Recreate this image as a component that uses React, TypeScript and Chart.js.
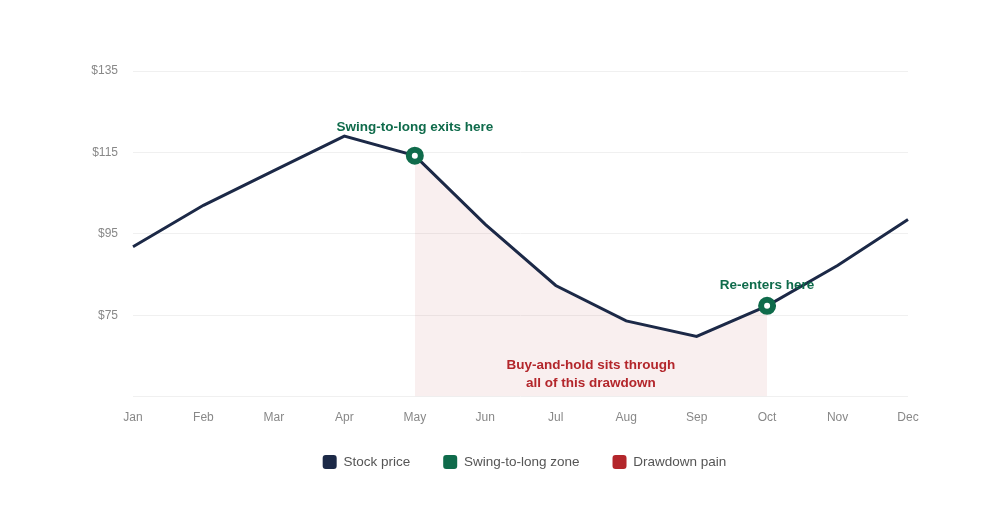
import React, { useEffect, useRef } from "react";
import { Chart, registerables } from "chart.js";

Chart.register(...registerables);

const months = ["Jan", "Feb", "Mar", "Apr", "May", "Jun", "Jul", "Aug", "Sep", "Oct", "Nov", "Dec"];
const stockPrice = [91.8, 102, 110.5, 119, 114.2, 97.3, 82.3, 73.6, 69.8, 77.3, 87.2, 98.5];
const exitIndex = 4;
const reentryIndex = 9;
const yTickValues = [55, 75, 95, 115, 135];
const legendNames = ["Stock price", "Swing-to-long zone", "Drawdown pain"];

const NAVY = "#1c2947";
const GREEN = "#0f6b4b";
const RED = "#b3262b";
const FONT = "'Liberation Sans', Arial, Helvetica, sans-serif";

const swingMarkers = stockPrice.map((v, i) => (i === exitIndex || i === reentryIndex ? v : null));
const drawdownZone = stockPrice.map((v, i) => (i >= exitIndex && i <= reentryIndex ? v : null));

const annotationPlugin = {
  id: "annotations",
  afterLayout(chart: any) {
    const lg = chart.legend;
    if (lg) {
      lg.top -= 17;
      lg.bottom -= 17;
      lg.left += 4;
      lg.right += 4;
    }
  },
  afterDatasetsDraw(chart: any) {
    const { ctx, scales, chartArea } = chart;
    const x = scales.x;
    const y = scales.y;
    ctx.save();
    ctx.textAlign = "center";
    ctx.textBaseline = "middle";
    ctx.font = `bold 13.5px ${FONT}`;
    ctx.fillStyle = GREEN;
    ctx.fillText(
      "Swing-to-long exits here",
      x.getPixelForValue(exitIndex),
      y.getPixelForValue(stockPrice[exitIndex]) - 28
    );
    ctx.fillText(
      "Re-enters here",
      x.getPixelForValue(reentryIndex),
      y.getPixelForValue(stockPrice[reentryIndex]) - 21
    );
    ctx.fillStyle = RED;
    const cx = (x.getPixelForValue(exitIndex) + x.getPixelForValue(reentryIndex)) / 2;
    ctx.fillText("Buy-and-hold sits through", cx, chartArea.bottom - 31);
    ctx.fillText("all of this drawdown", cx, chartArea.bottom - 13);
    ctx.restore();
  },
};

export default function App() {
  const ref = useRef<HTMLCanvasElement | null>(null);

  useEffect(() => {
    document.body.style.margin = "0";
    if (!ref.current) return;
    const chart = new Chart(ref.current, {
      type: "line",
      data: {
        labels: months,
        datasets: [
          {
            label: legendNames[1],
            data: swingMarkers,
            showLine: false,
            pointRadius: 6,
            pointHoverRadius: 6,
            pointBorderWidth: 6,
            pointBackgroundColor: "#ffffff",
            pointBorderColor: GREEN,
            borderColor: GREEN,
            backgroundColor: GREEN,
            order: 0,
          },
          {
            label: legendNames[0],
            data: stockPrice,
            borderColor: NAVY,
            backgroundColor: NAVY,
            borderWidth: 3,
            pointRadius: 0,
            tension: 0,
            fill: false,
            order: 1,
          },
          {
            label: legendNames[2],
            data: drawdownZone,
            borderColor: "rgba(0,0,0,0)",
            borderWidth: 0,
            backgroundColor: "rgba(178,34,34,0.075)",
            pointRadius: 0,
            fill: "start",
            order: 2,
          },
        ],
      },
      options: {
        animation: false,
        responsive: true,
        maintainAspectRatio: false,
        layout: { padding: { left: 60, right: 92, top: 71, bottom: 24 } },
        plugins: {
          tooltip: { enabled: false },
          legend: {
            position: "bottom",
            fullSize: false,
            labels: {
              font: { family: FONT, size: 13.5 },
              color: "#555555",
              boxWidth: 14,
              boxHeight: 14,
              padding: 33,
              useBorderRadius: true,
              borderRadius: 3,
              generateLabels: () =>
                [NAVY, GREEN, RED].map((c, i) => ({
                  text: legendNames[i],
                  fillStyle: c,
                  strokeStyle: c,
                  lineWidth: 0,
                  hidden: false,
                  borderRadius: 3,
                  fontColor: "#555555",
                  datasetIndex: i,
                })),
            },
          },
        },
        scales: {
          x: {
            offset: false,
            grid: { display: false, drawTicks: false },
            border: { display: false },
            ticks: { color: "#888888", font: { family: FONT, size: 12 }, padding: 14 },
          },
          y: {
            min: 55,
            max: 135,
            afterFit: (s: any) => {
              s.width = 73;
            },
            afterBuildTicks: (s: any) => {
              s.ticks = yTickValues.map((v) => ({ value: v }));
            },
            grid: { color: "#f0f0f0", drawTicks: false },
            border: { display: false },
            ticks: {
              color: "#888888",
              font: { family: FONT, size: 12 },
              padding: 15,
              callback: (v: any) => (v === yTickValues[0] ? "" : "$" + v),
            },
          },
        },
      },
      plugins: [annotationPlugin],
    });
    return () => chart.destroy();
  }, []);

  return (
    <div style={{ width: 1000, height: 520, position: "relative" }}>
      <canvas ref={ref} />
    </div>
  );
}
